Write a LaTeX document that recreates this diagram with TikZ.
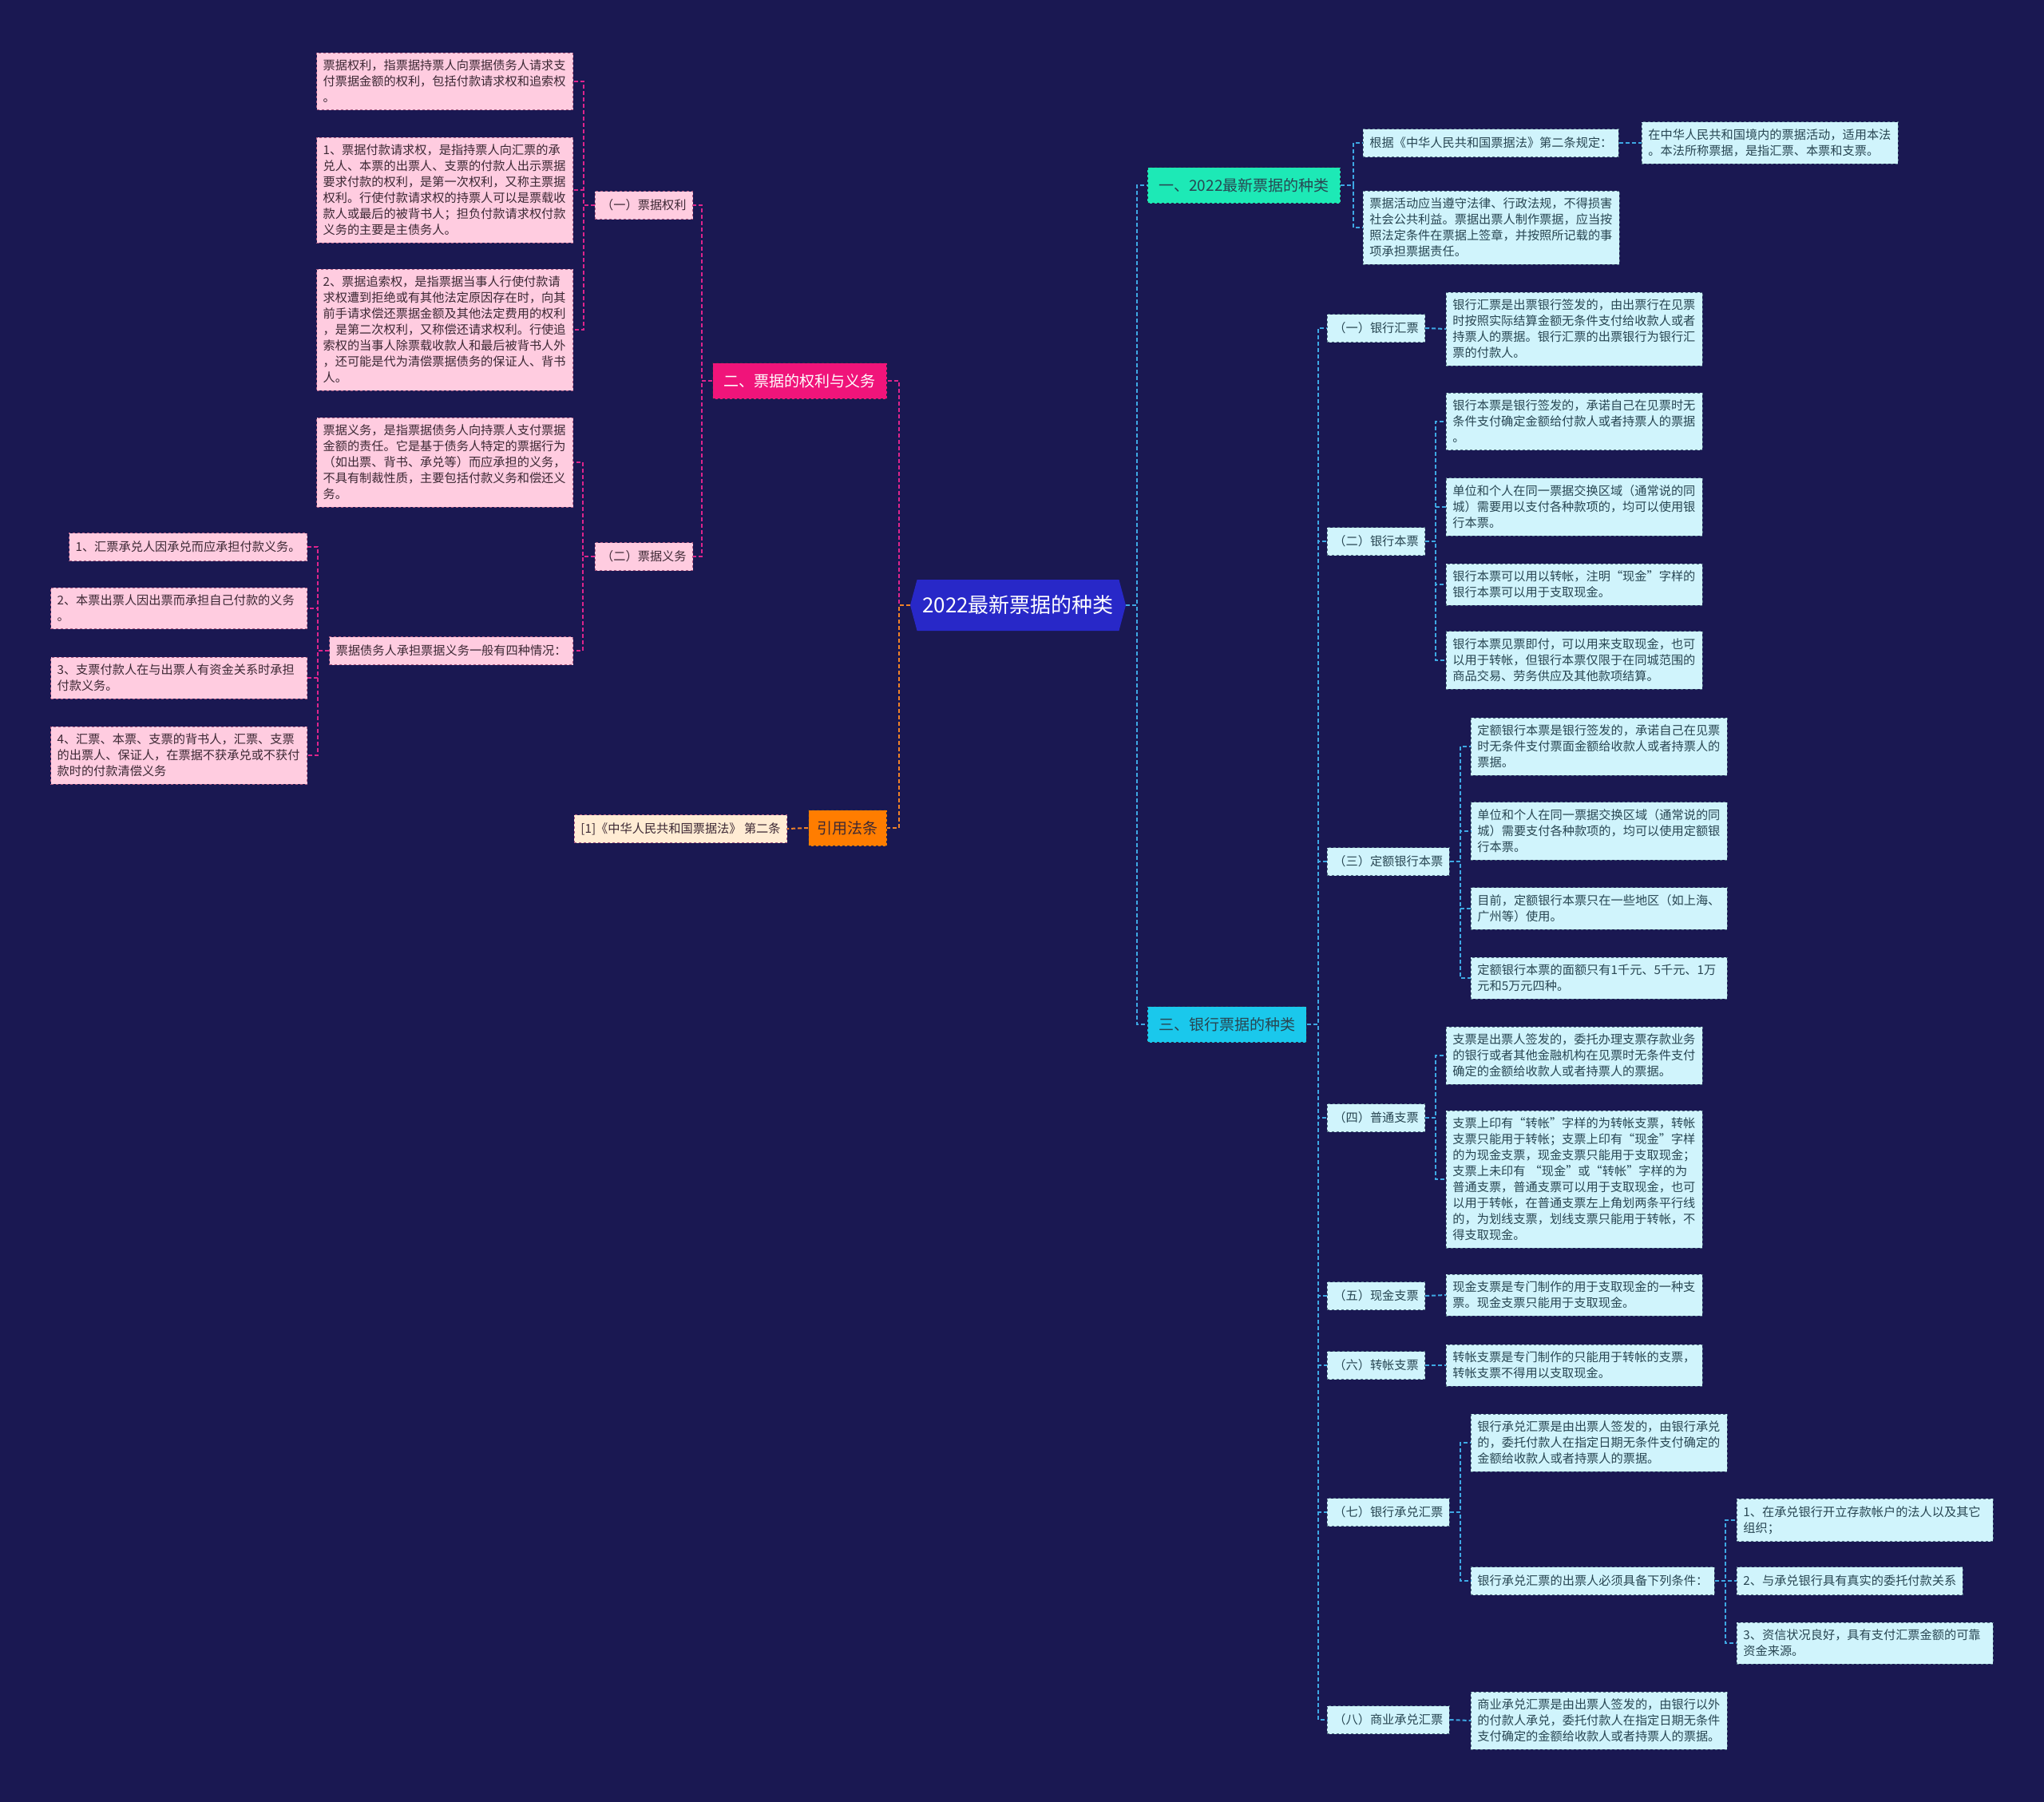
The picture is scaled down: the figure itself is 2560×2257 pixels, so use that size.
\documentclass[tikz,border=0pt]{standalone}
\usepackage{fontspec}
\setmainfont{Noto Sans CJK SC}
\usetikzlibrary{shapes.symbols}
\definecolor{bgnavy}{RGB}{26,24,82}
\definecolor{ctrblue}{RGB}{40,40,200}
\definecolor{pinkfill}{RGB}{255,204,224}
\definecolor{pinkedge}{RGB}{170,90,130}
\definecolor{pinktext}{RGB}{60,40,52}
\definecolor{pinkline}{RGB}{222,36,140}
\definecolor{cyanfill}{RGB}{208,244,252}
\definecolor{cyanedge}{RGB}{80,110,130}
\definecolor{cyantext}{RGB}{40,70,82}
\definecolor{blueline}{RGB}{62,168,228}
\definecolor{sectealfill}{RGB}{29,233,182}
\definecolor{seccyanfill}{RGB}{26,200,236}
\definecolor{secpinkfill}{RGB}{240,20,122}
\definecolor{citefill}{RGB}{255,125,0}
\definecolor{lawfill}{RGB}{255,236,212}
\definecolor{orangeline}{RGB}{240,130,40}
\definecolor{secedge}{RGB}{40,40,70}

\begin{document}
\begin{tikzpicture}[x=1pt, y=-1pt,
  box/.style={draw, dashed, line width=0.8pt, inner xsep=8pt, inner ysep=9pt,
    minimum height=35pt, font=\fontsize{15.2}{20}\selectfont},
  pk/.style={box, fill=pinkfill, draw=pinkedge, text=pinktext},
  cy/.style={box, fill=cyanfill, draw=cyanedge, text=cyantext},
  wide/.style={text width=305pt, align=left},
  sec/.style={draw=secedge, dashed, line width=0.8pt, inner xsep=14pt,
    minimum height=45pt, font=\fontsize{19}{23}\selectfont},
  pkl/.style={draw=pinkline, line width=2pt, dash pattern=on 5pt off 3pt},
  bll/.style={draw=blueline, line width=2pt, dash pattern=on 5pt off 3pt},
  orl/.style={draw=orangeline, line width=2pt, dash pattern=on 5pt off 3pt}]
  \fill[bgnavy] (0,0) rectangle (2560,2257);
  \useasboundingbox (0,0) rectangle (2560,2257);

  \node[signal, signal to=east and west, signal pointer angle=150, fill=ctrblue,
    text=white, font=\fontsize{26}{30}\selectfont, minimum width=270pt,
    minimum height=64pt] (ctr) at (1275,758) {2022最新票据的种类};

  \node[sec, fill=secpinkfill, text=white, anchor=east] (sec2) at (1111,477) {二、票据的权利与义务};
  \node[sec, fill=citefill, text=pinktext, anchor=east, inner xsep=11pt] (cite) at (1111,1037) {引用法条};
  \node[sec, fill=sectealfill, text=cyantext, anchor=west] (sec1) at (1437,232) {一、2022最新票据的种类};
  \node[sec, fill=seccyanfill, text=cyantext, anchor=west] (sec3) at (1437,1283) {三、银行票据的种类};

  \node[pk, anchor=east, fill=lawfill] (law) at (986,1038) {[1]《中华人民共和国票据法》 第二条};

  \node[pk, anchor=east] (qr) at (868,257) {（一）票据权利};
  \node[pk, anchor=east] (qy) at (868,697) {（二）票据义务};

  \node[pk, wide, anchor=east] (qr1) at (718,102) {票据权利，指票据持票人向票据债务人请求支\\付票据金额的权利，包括付款请求权和追索权\\。};
  \node[pk, wide, anchor=east] (qr2) at (718,238) {1、票据付款请求权，是指持票人向汇票的承\\兑人、本票的出票人、支票的付款人出示票据\\要求付款的权利，是第一次权利，又称主票据\\权利。行使付款请求权的持票人可以是票载收\\款人或最后的被背书人；担负付款请求权付款\\义务的主要是主债务人。};
  \node[pk, wide, anchor=east] (qr3) at (718,413) {2、票据追索权，是指票据当事人行使付款请\\求权遭到拒绝或有其他法定原因存在时，向其\\前手请求偿还票据金额及其他法定费用的权利\\，是第二次权利，又称偿还请求权利。行使追\\索权的当事人除票载收款人和最后被背书人外\\，还可能是代为清偿票据债务的保证人、背书\\人。};
  \node[pk, wide, anchor=east] (qy1) at (718,579) {票据义务，是指票据债务人向持票人支付票据\\金额的责任。它是基于债务人特定的票据行为\\（如出票、背书、承兑等）而应承担的义务，\\不具有制裁性质，主要包括付款义务和偿还义\\务。};
  \node[pk, anchor=east] (qy2) at (718,815) {票据债务人承担票据义务一般有四种情况：};

  \node[pk, anchor=east] (dt1) at (385,685) {1、汇票承兑人因承兑而应承担付款义务。};
  \node[pk, wide, anchor=east] (dt2) at (385,762) {2、本票出票人因出票而承担自己付款的义务\\。};
  \node[pk, wide, anchor=east] (dt3) at (385,849) {3、支票付款人在与出票人有资金关系时承担\\付款义务。};
  \node[pk, wide, anchor=east] (dt4) at (385,946) {4、汇票、本票、支票的背书人，汇票、支票\\的出票人、保证人，在票据不获承兑或不获付\\款时的付款清偿义务};

  \node[cy, anchor=west] (law1) at (1707,179) {根据《中华人民共和国票据法》第二条规定：};
  \node[cy, wide, anchor=west] (law2) at (2056,179) {在中华人民共和国境内的票据活动，适用本法\\。本法所称票据，是指汇票、本票和支票。};
  \node[cy, wide, anchor=west] (law3) at (1707,285) {票据活动应当遵守法律、行政法规，不得损害\\社会公共利益。票据出票人制作票据，应当按\\照法定条件在票据上签章，并按照所记载的事\\项承担票据责任。};

  \node[cy, anchor=west] (k1) at (1662,411) {（一）银行汇票};
  \node[cy, anchor=west] (k2) at (1662,678) {（二）银行本票};
  \node[cy, anchor=west] (k3) at (1662,1079) {（三）定额银行本票};
  \node[cy, anchor=west] (k4) at (1662,1400) {（四）普通支票};
  \node[cy, anchor=west] (k5) at (1662,1623) {（五）现金支票};
  \node[cy, anchor=west] (k6) at (1662,1710) {（六）转帐支票};
  \node[cy, anchor=west] (k7) at (1662,1894) {（七）银行承兑汇票};
  \node[cy, anchor=west] (k8) at (1662,2154) {（八）商业承兑汇票};

  \node[cy, wide, anchor=west] (k1a) at (1811,412) {银行汇票是出票银行签发的，由出票行在见票\\时按照实际结算金额无条件支付给收款人或者\\持票人的票据。银行汇票的出票银行为银行汇\\票的付款人。};
  \node[cy, wide, anchor=west] (k2a) at (1811,528) {银行本票是银行签发的，承诺自己在见票时无\\条件支付确定金额给付款人或者持票人的票据\\。};
  \node[cy, wide, anchor=west] (k2b) at (1811,635) {单位和个人在同一票据交换区域（通常说的同\\城）需要用以支付各种款项的，均可以使用银\\行本票。};
  \node[cy, wide, anchor=west] (k2c) at (1811,732) {银行本票可以用以转帐，注明“现金”字样的\\银行本票可以用于支取现金。};
  \node[cy, wide, anchor=west] (k2d) at (1811,827) {银行本票见票即付，可以用来支取现金，也可\\以用于转帐，但银行本票仅限于在同城范围的\\商品交易、劳务供应及其他款项结算。};
  \node[cy, wide, anchor=west] (k3a) at (1842,935) {定额银行本票是银行签发的，承诺自己在见票\\时无条件支付票面金额给收款人或者持票人的\\票据。};
  \node[cy, wide, anchor=west] (k3b) at (1842,1041) {单位和个人在同一票据交换区域（通常说的同\\城）需要支付各种款项的，均可以使用定额银\\行本票。};
  \node[cy, wide, anchor=west] (k3c) at (1842,1138) {目前，定额银行本票只在一些地区（如上海、\\广州等）使用。};
  \node[cy, wide, anchor=west] (k3d) at (1842,1225) {定额银行本票的面额只有1千元、5千元、1万\\元和5万元四种。};
  \node[cy, wide, anchor=west] (k4a) at (1811,1322) {支票是出票人签发的，委托办理支票存款业务\\的银行或者其他金融机构在见票时无条件支付\\确定的金额给收款人或者持票人的票据。};
  \node[cy, wide, anchor=west] (k4b) at (1811,1477) {支票上印有“转帐”字样的为转帐支票，转帐\\支票只能用于转帐；支票上印有“现金”字样\\的为现金支票，现金支票只能用于支取现金；\\支票上未印有 “现金”或“转帐”字样的为\\普通支票，普通支票可以用于支取现金，也可\\以用于转帐，在普通支票左上角划两条平行线\\的，为划线支票，划线支票只能用于转帐，不\\得支取现金。};
  \node[cy, wide, anchor=west] (k5a) at (1811,1622) {现金支票是专门制作的用于支取现金的一种支\\票。现金支票只能用于支取现金。};
  \node[cy, wide, anchor=west] (k6a) at (1811,1710) {转帐支票是专门制作的只能用于转帐的支票，\\转帐支票不得用以支取现金。};
  \node[cy, wide, anchor=west] (k7a) at (1842,1807) {银行承兑汇票是由出票人签发的，由银行承兑\\的，委托付款人在指定日期无条件支付确定的\\金额给收款人或者持票人的票据。};
  \node[cy, anchor=west] (k7b) at (1842,1980) {银行承兑汇票的出票人必须具备下列条件：};
  \node[cy, wide, anchor=west] (cd1) at (2175,1904) {1、在承兑银行开立存款帐户的法人以及其它\\组织；};
  \node[cy, anchor=west] (cd2) at (2175,1980) {2、与承兑银行具有真实的委托付款关系};
  \node[cy, wide, anchor=west] (cd3) at (2175,2058) {3、资信状况良好，具有支付汇票金额的可靠\\资金来源。};
  \node[cy, wide, anchor=west] (k8a) at (1842,2155) {商业承兑汇票是由出票人签发的，由银行以外\\的付款人承兑，委托付款人在指定日期无条件\\支付确定的金额给收款人或者持票人的票据。};

  \draw[pkl] (ctr.west) -- ++(-14,0) |- (sec2.east);
  \draw[orl] (ctr.west) -- ++(-14,0) |- (cite.east);
  \draw[orl] (cite.west) -- (law.east);
  \foreach \c in {qr,qy} \draw[pkl] (sec2.west) -- ++(-13,0) |- (\c.east);
  \foreach \c in {qr1,qr2,qr3} \draw[pkl] (qr.west) -- ++(-14,0) |- (\c.east);
  \foreach \c in {qy1,qy2} \draw[pkl] (qy.west) -- ++(-15,0) |- (\c.east);
  \foreach \c in {dt1,dt2,dt3,dt4} \draw[pkl] (qy2.west) -- ++(-14,0) |- (\c.east);

  \foreach \c in {sec1,sec3} \draw[bll] (ctr.east) -- ++(14,0) |- (\c.west);
  \foreach \c in {law1,law3} \draw[bll] (sec1.east) -- ++(16,0) |- (\c.west);
  \draw[bll] (law1.east) -- (law2.west);
  \foreach \c in {k1,k2,k3,k4,k5,k6,k7,k8} \draw[bll] (sec3.east) -- ++(14,0) |- (\c.west);
  \draw[bll] (k1.east) -- (k1a.west);
  \foreach \c in {k2a,k2b,k2c,k2d} \draw[bll] (k2.east) -- ++(13,0) |- (\c.west);
  \foreach \c in {k3a,k3b,k3c,k3d} \draw[bll] (k3.east) -- ++(13,0) |- (\c.west);
  \foreach \c in {k4a,k4b} \draw[bll] (k4.east) -- ++(13,0) |- (\c.west);
  \draw[bll] (k5.east) -- (k5a.west);
  \draw[bll] (k6.east) -- (k6a.west);
  \foreach \c in {k7a,k7b} \draw[bll] (k7.east) -- ++(13,0) |- (\c.west);
  \foreach \c in {cd1,cd2,cd3} \draw[bll] (k7b.east) -- ++(13,0) |- (\c.west);
  \draw[bll] (k8.east) -- (k8a.west);
\end{tikzpicture}
\end{document}
